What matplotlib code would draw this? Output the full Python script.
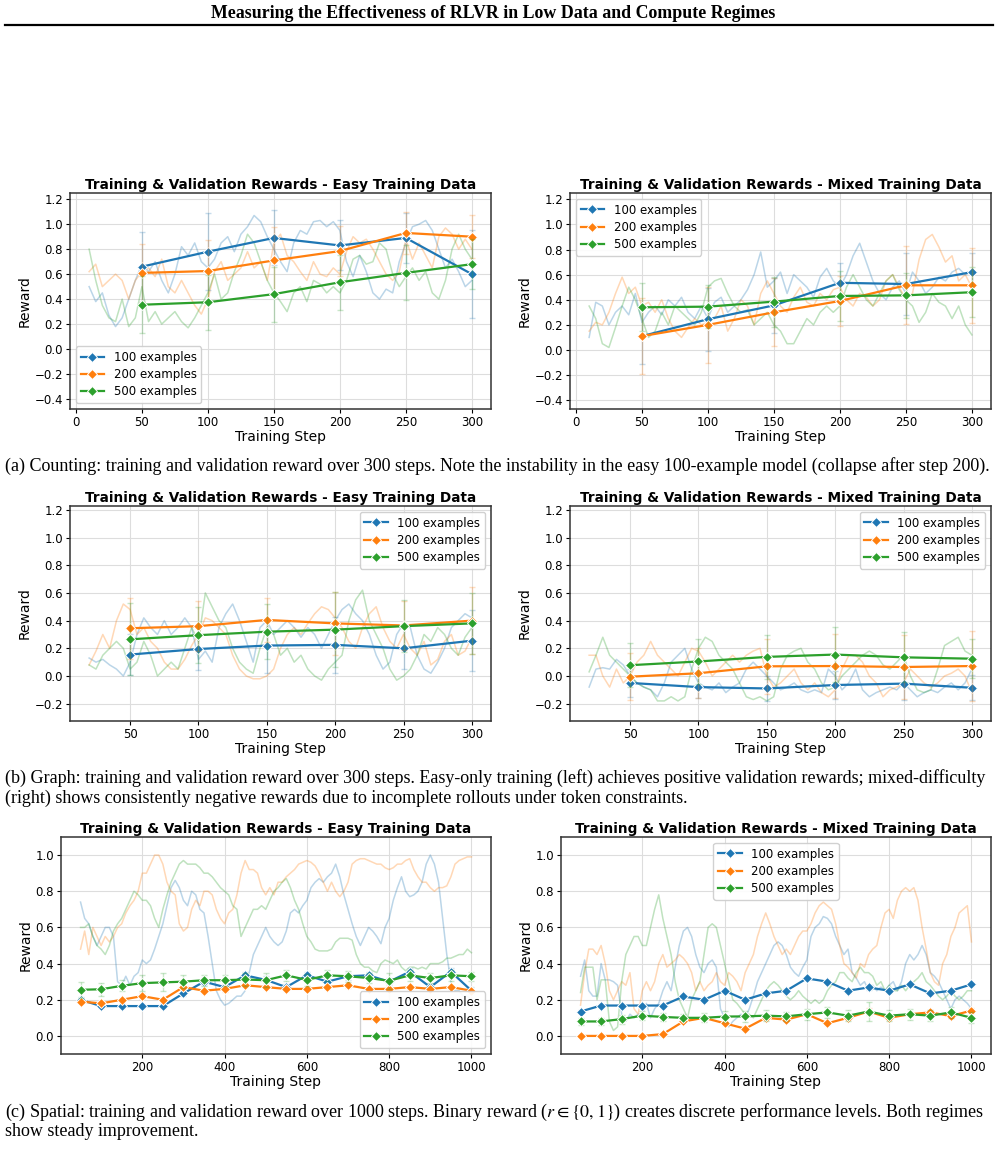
import numpy as np
import matplotlib.pyplot as plt

W, H = 998, 1173

COLORS = ["#1f77b4", "#ff7f0e", "#2ca02c"]
LABELS = ["100 examples", "200 examples", "500 examples"]
TITLE_EASY = "Training & Validation Rewards - Easy Training Data"
TITLE_MIXED = "Training & Validation Rewards - Mixed Training Data"

VAL_STEPS_300 = [50, 100, 150, 200, 250, 300]
VAL_STEPS_1000 = [50, 100, 150, 200, 250, 300, 350, 400, 450, 500,
                  550, 600, 650, 700, 750, 800, 850, 900, 950, 1000]

# ---- (a) Counting, easy ----
A_EASY_TRAIN_START, A_EASY_TRAIN_EVERY = 10, 5
A_EASY_TRAIN_100 = [0.50, 0.38, 0.45, 0.27, 0.18, 0.25, 0.40, 0.55, 0.68, 0.62,
                    0.70, 0.55, 0.45, 0.60, 0.82, 0.75, 0.85, 0.70, 0.65, 0.72,
                    0.85, 0.90, 0.78, 0.92, 0.98, 1.07, 1.02, 0.90, 0.80, 0.70,
                    0.62, 0.85, 0.95, 0.92, 1.02, 1.03, 0.98, 1.02, 0.95, 0.70,
                    0.58, 0.75, 0.62, 0.45, 0.40, 0.48, 0.45, 0.70, 0.85, 0.98,
                    1.00, 1.03, 0.95, 0.80, 0.65, 0.72, 0.62, 0.50, 0.55]
A_EASY_TRAIN_200 = [0.62, 0.68, 0.50, 0.55, 0.60, 0.55, 0.40, 0.55, 0.62, 0.65,
                    0.58, 0.72, 0.50, 0.45, 0.55, 0.45, 0.35, 0.28, 0.40, 0.62,
                    0.70, 0.55, 0.60, 0.65, 0.78, 0.65, 0.70, 0.55, 0.85, 0.92,
                    0.75, 0.70, 0.62, 0.55, 0.70, 0.60, 0.58, 0.65, 0.60, 0.78,
                    0.90, 0.85, 0.88, 0.80, 0.70, 0.60, 0.55, 0.62, 0.88, 0.72,
                    0.85, 0.75, 0.65, 0.90, 0.97, 0.92, 0.80, 0.88, 0.80]
A_EASY_TRAIN_500 = [0.80, 0.55, 0.35, 0.25, 0.22, 0.40, 0.18, 0.25, 0.50, 0.22,
                    0.30, 0.20, 0.25, 0.30, 0.22, 0.17, 0.25, 0.35, 0.45, 0.60,
                    0.40, 0.45, 0.62, 0.75, 0.92, 0.85, 0.70, 0.55, 0.45, 0.38,
                    0.30, 0.45, 0.50, 0.38, 0.55, 0.52, 0.45, 0.50, 0.45, 0.55,
                    0.72, 0.75, 0.68, 0.70, 0.85, 0.80, 0.60, 0.50, 0.58, 0.65,
                    0.55, 0.62, 0.45, 0.40, 0.55, 0.80, 0.92, 0.80, 0.72]
A_EASY_VAL_100 = [0.66, 0.78, 0.89, 0.83, 0.89, 0.60]
A_EASY_VAL_200 = [0.61, 0.625, 0.71, 0.785, 0.93, 0.90]
A_EASY_VAL_500 = [0.355, 0.375, 0.44, 0.535, 0.61, 0.68]
A_EASY_ERR_100 = [0.28, 0.31, 0.22, 0.20, 0.20, 0.35]
A_EASY_ERR_200 = [0.23, 0.25, 0.27, 0.20, 0.17, 0.17]
A_EASY_ERR_500 = [0.23, 0.22, 0.22, 0.22, 0.22, 0.20]

# ---- (a) Counting, mixed ----
A_MIX_TRAIN_START, A_MIX_TRAIN_EVERY = 10, 5
A_MIX_TRAIN_100 = [0.10, 0.38, 0.35, 0.20, 0.30, 0.35, 0.28, 0.45, 0.22, 0.30,
                   0.35, 0.28, 0.40, 0.35, 0.42, 0.30, 0.25, 0.35, 0.25, 0.38,
                   0.42, 0.30, 0.35, 0.40, 0.48, 0.60, 0.78, 0.50, 0.55, 0.62,
                   0.45, 0.60, 0.55, 0.50, 0.42, 0.58, 0.65, 0.55, 0.50, 0.60,
                   0.75, 0.85, 0.70, 0.55, 0.45, 0.40, 0.50, 0.55, 0.45, 0.62,
                   0.55, 0.45, 0.50, 0.58, 0.55, 0.62, 0.65, 0.60, 0.62]
A_MIX_TRAIN_200 = [0.15, 0.22, 0.20, 0.30, 0.45, 0.58, 0.45, 0.50, 0.35, 0.38,
                   0.30, 0.40, 0.25, 0.15, 0.10, 0.18, 0.25, 0.20, 0.22, 0.25,
                   0.35, 0.15, 0.25, 0.40, 0.35, 0.20, 0.45, 0.55, 0.45, 0.35,
                   0.30, 0.42, 0.50, 0.38, 0.35, 0.45, 0.40, 0.48, 0.50, 0.40,
                   0.35, 0.45, 0.42, 0.35, 0.40, 0.55, 0.60, 0.50, 0.40, 0.45,
                   0.72, 0.88, 0.92, 0.82, 0.70, 0.75, 0.55, 0.60, 0.50]
A_MIX_TRAIN_500 = [0.35, 0.25, 0.05, 0.02, 0.18, 0.35, 0.50, 0.40, 0.25, 0.10,
                   0.15, 0.30, 0.20, 0.35, 0.30, 0.25, 0.20, 0.30, 0.50, 0.55,
                   0.57, 0.45, 0.35, 0.30, 0.32, 0.20, 0.25, 0.30, 0.20, 0.15,
                   0.05, 0.05, 0.15, 0.25, 0.20, 0.30, 0.35, 0.30, 0.35, 0.50,
                   0.60, 0.50, 0.40, 0.35, 0.45, 0.55, 0.60, 0.48, 0.40, 0.35,
                   0.22, 0.30, 0.45, 0.38, 0.35, 0.25, 0.35, 0.20, 0.12]
A_MIX_VAL_100 = [0.11, 0.245, 0.355, 0.535, 0.525, 0.62]
A_MIX_VAL_200 = [0.11, 0.20, 0.30, 0.39, 0.515, 0.515]
A_MIX_VAL_500 = [0.34, 0.345, 0.385, 0.43, 0.435, 0.46]
A_MIX_ERR_100 = [0.22, 0.25, 0.22, 0.16, 0.25, 0.15]
A_MIX_ERR_200 = [0.30, 0.30, 0.27, 0.20, 0.31, 0.30]
A_MIX_ERR_500 = [0.19, 0.17, 0.20, 0.20, 0.18, 0.20]

# ---- (b) Graph, easy ----
B_EASY_TRAIN_START, B_EASY_TRAIN_EVERY = 20, 5
B_EASY_TRAIN_100 = [0.13, 0.10, 0.12, 0.08, 0.05, 0.00, 0.10, 0.30, 0.42, 0.35,
                    0.30, 0.40, 0.30, 0.35, 0.42, 0.35, 0.12, 0.18, 0.10, 0.35,
                    0.45, 0.52, 0.40, 0.25, 0.10, 0.35, 0.40, 0.30, 0.35, 0.40,
                    0.35, 0.28, 0.35, 0.30, 0.20, 0.30, 0.40, 0.48, 0.52, 0.45,
                    0.40, 0.30, 0.15, 0.05, 0.10, 0.30, 0.38, 0.35, 0.15, 0.05,
                    0.02, 0.10, 0.20, 0.35, 0.40, 0.45, 0.42]
B_EASY_TRAIN_200 = [0.08, 0.18, 0.30, 0.20, 0.40, 0.52, 0.48, 0.30, 0.35, 0.25,
                    0.20, 0.10, 0.05, 0.05, 0.12, 0.22, 0.30, 0.42, 0.40, 0.35,
                    0.30, 0.15, 0.05, 0.00, -0.02, -0.02, 0.00, 0.05, 0.20, 0.30,
                    0.35, 0.30, 0.38, 0.45, 0.50, 0.48, 0.42, 0.35, 0.25, 0.20,
                    0.35, 0.45, 0.50, 0.35, 0.25, 0.20, 0.30, 0.20, 0.15, 0.25,
                    0.08, 0.12, 0.25, 0.30, 0.15, 0.18, 0.28]
B_EASY_TRAIN_500 = [0.08, 0.05, 0.15, 0.20, 0.25, 0.20, 0.05, 0.10, 0.25, 0.15,
                    0.00, 0.05, 0.10, 0.05, 0.20, 0.35, 0.25, 0.60, 0.50, 0.40,
                    0.35, 0.20, 0.10, 0.05, 0.02, 0.20, 0.35, 0.30, 0.15, 0.20,
                    0.10, 0.15, 0.05, 0.00, -0.03, 0.05, 0.10, 0.15, 0.40, 0.55,
                    0.62, 0.40, 0.30, 0.20, 0.05, -0.03, 0.00, 0.05, 0.15, 0.30,
                    0.25, 0.35, 0.30, 0.20, 0.15, 0.28, 0.35]
B_EASY_VAL_100 = [0.155, 0.195, 0.22, 0.225, 0.20, 0.255]
B_EASY_VAL_200 = [0.345, 0.36, 0.405, 0.38, 0.365, 0.40]
B_EASY_VAL_500 = [0.265, 0.295, 0.32, 0.335, 0.36, 0.38]
B_EASY_ERR_100 = [0.15, 0.15, 0.20, 0.20, 0.15, 0.22]
B_EASY_ERR_200 = [0.22, 0.18, 0.16, 0.23, 0.18, 0.24]
B_EASY_ERR_500 = [0.26, 0.20, 0.20, 0.27, 0.19, 0.22]

# ---- (b) Graph, mixed ----
B_MIX_TRAIN_START, B_MIX_TRAIN_EVERY = 20, 5
B_MIX_TRAIN_100 = [-0.08, 0.05, 0.06, 0.05, 0.12, 0.08, 0.00, -0.05, -0.08, -0.10,
                   -0.15, -0.05, 0.10, 0.15, 0.20, 0.05, -0.05, -0.08, -0.10, -0.05,
                   -0.12, -0.08, -0.05, 0.05, 0.10, 0.05, 0.00, -0.05, -0.10, -0.08,
                   -0.05, -0.10, -0.12, -0.10, -0.12, 0.05, 0.00, -0.10, -0.05, 0.05,
                   -0.10, -0.15, -0.12, -0.10, -0.08, -0.10, -0.05, -0.10, -0.15, -0.12,
                   -0.10, -0.12, -0.08, -0.05, -0.10, -0.05, 0.05]
B_MIX_TRAIN_200 = [0.15, 0.15, 0.00, -0.08, 0.05, -0.05, 0.00, 0.10, 0.15, 0.25,
                   0.15, 0.10, 0.05, 0.00, 0.10, 0.20, 0.18, 0.10, 0.00, 0.05,
                   0.10, 0.15, 0.10, 0.15, 0.18, 0.20, 0.00, -0.08, -0.05, 0.00,
                   0.05, -0.05, -0.10, -0.05, -0.12, -0.15, -0.10, 0.05, 0.15, 0.15,
                   0.10, 0.00, -0.05, -0.15, -0.10, -0.08, -0.05, 0.05, 0.00, -0.05,
                   -0.08, -0.05, 0.00, 0.02, 0.05, 0.00, -0.12]
B_MIX_TRAIN_500 = [0.03, 0.15, 0.28, 0.15, 0.10, 0.05, 0.00, -0.05, -0.08, -0.10,
                   -0.18, -0.18, -0.15, -0.18, -0.15, 0.05, 0.20, 0.28, 0.25, 0.15,
                   0.10, 0.05, -0.05, -0.15, -0.17, -0.15, -0.18, -0.15, 0.05, 0.15,
                   0.18, 0.20, 0.10, 0.05, -0.05, -0.10, -0.08, 0.00, 0.05, 0.10,
                   0.15, 0.18, 0.15, 0.08, 0.05, 0.10, 0.15, 0.00, -0.10, -0.12,
                   -0.10, 0.05, 0.22, 0.25, 0.28, 0.18, 0.15]
B_MIX_VAL_100 = [-0.05, -0.08, -0.09, -0.065, -0.055, -0.085]
B_MIX_VAL_200 = [-0.005, 0.02, 0.07, 0.072, 0.065, 0.072]
B_MIX_VAL_500 = [0.078, 0.105, 0.138, 0.155, 0.135, 0.125]
B_MIX_ERR_100 = [0.10, 0.08, 0.09, 0.10, 0.12, 0.09]
B_MIX_ERR_200 = [0.17, 0.18, 0.20, 0.23, 0.23, 0.25]
B_MIX_ERR_500 = [0.16, 0.16, 0.16, 0.20, 0.18, 0.14]

# ---- (c) Spatial, easy ----
C_EASY_TRAIN_START, C_EASY_TRAIN_EVERY = 50, 10
C_EASY_TRAIN_100 = [0.74, 0.65, 0.62, 0.55, 0.50, 0.55, 0.60, 0.60, 0.55, 0.30,
                    0.28, 0.33, 0.28, 0.33, 0.35, 0.42, 0.40, 0.42, 0.48, 0.55,
                    0.62, 0.72, 0.82, 0.86, 0.82, 0.75, 0.72, 0.80, 0.78, 0.70,
                    0.68, 0.55, 0.40, 0.25, 0.20, 0.17, 0.18, 0.20, 0.22, 0.22,
                    0.25, 0.35, 0.45, 0.50, 0.55, 0.60, 0.55, 0.52, 0.50, 0.52,
                    0.58, 0.68, 0.70, 0.68, 0.72, 0.75, 0.82, 0.85, 0.87, 0.85,
                    0.88, 0.90, 0.95, 0.88, 0.78, 0.70, 0.62, 0.55, 0.50, 0.55,
                    0.60, 0.58, 0.55, 0.51, 0.60, 0.65, 0.75, 0.82, 0.88, 0.80,
                    0.77, 0.78, 0.80, 0.85, 0.95, 1.00, 0.95, 0.85, 0.65, 0.45,
                    0.30, 0.25, 0.25, 0.22, 0.22, 0.20]
C_EASY_TRAIN_200 = [0.48, 0.58, 0.45, 0.60, 0.55, 0.50, 0.55, 0.52, 0.55, 0.60,
                    0.62, 0.68, 0.72, 0.75, 0.80, 0.90, 0.90, 0.95, 1.00, 1.00,
                    0.95, 0.85, 0.80, 0.78, 0.62, 0.58, 0.60, 0.70, 0.75, 0.72,
                    0.80, 0.80, 0.78, 0.70, 0.65, 0.62, 0.68, 0.70, 0.78, 0.90,
                    0.97, 0.92, 0.92, 0.90, 0.82, 0.78, 0.82, 0.78, 0.85, 0.85,
                    0.88, 0.90, 0.92, 0.95, 0.96, 0.97, 0.96, 0.94, 0.90, 0.85,
                    0.80, 0.85, 0.80, 0.77, 0.80, 0.85, 0.95, 0.97, 0.98, 0.98,
                    0.97, 0.96, 0.95, 0.95, 0.93, 0.92, 0.93, 0.95, 0.95, 0.97,
                    0.98, 0.92, 0.88, 0.85, 0.85, 0.82, 0.80, 0.82, 0.82, 0.83,
                    0.88, 0.95, 0.97, 0.98, 0.99, 0.99]
C_EASY_TRAIN_500 = [0.60, 0.60, 0.62, 0.55, 0.50, 0.48, 0.45, 0.50, 0.58, 0.62,
                    0.65, 0.70, 0.75, 0.80, 0.78, 0.75, 0.75, 0.72, 0.65, 0.60,
                    0.70, 0.78, 0.85, 0.90, 0.95, 0.97, 0.95, 0.95, 0.95, 0.93,
                    0.90, 0.90, 0.88, 0.85, 0.82, 0.80, 0.78, 0.72, 0.70, 0.55,
                    0.60, 0.65, 0.70, 0.70, 0.72, 0.70, 0.75, 0.80, 0.82, 0.85,
                    0.87, 0.82, 0.75, 0.70, 0.62, 0.55, 0.52, 0.48, 0.47, 0.47,
                    0.47, 0.48, 0.52, 0.54, 0.54, 0.54, 0.53, 0.45, 0.40, 0.38,
                    0.38, 0.36, 0.35, 0.40, 0.42, 0.41, 0.40, 0.42, 0.38, 0.36,
                    0.38, 0.38, 0.37, 0.38, 0.37, 0.40, 0.40, 0.40, 0.41, 0.43,
                    0.43, 0.44, 0.45, 0.45, 0.48, 0.46]
C_EASY_VAL_100 = [0.20, 0.165, 0.165, 0.165, 0.165, 0.235, 0.30, 0.27, 0.335, 0.31,
                  0.27, 0.335, 0.30, 0.33, 0.335, 0.30, 0.355, 0.27, 0.355, 0.25]
C_EASY_VAL_200 = [0.19, 0.18, 0.20, 0.22, 0.20, 0.27, 0.25, 0.26, 0.28, 0.27,
                  0.26, 0.26, 0.27, 0.28, 0.26, 0.26, 0.27, 0.26, 0.27, 0.25]
C_EASY_VAL_500 = [0.255, 0.258, 0.277, 0.292, 0.296, 0.30, 0.308, 0.308, 0.312, 0.308,
                  0.335, 0.31, 0.335, 0.33, 0.32, 0.305, 0.335, 0.32, 0.335, 0.33]
C_EASY_ERR_100 = [0.015, 0.01, 0.01, 0.01, 0.01, 0.015, 0.02, 0.015, 0.02, 0.02,
                  0.015, 0.02, 0.02, 0.02, 0.02, 0.02, 0.02, 0.015, 0.02, 0.02]
C_EASY_ERR_200 = [0.01, 0.01, 0.01, 0.015, 0.01, 0.01, 0.01, 0.015, 0.01, 0.01,
                  0.01, 0.01, 0.01, 0.015, 0.01, 0.01, 0.01, 0.01, 0.01, 0.01]
C_EASY_ERR_500 = [0.045, 0.035, 0.03, 0.045, 0.05, 0.035, 0.03, 0.03, 0.035, 0.04,
                  0.03, 0.035, 0.03, 0.03, 0.03, 0.045, 0.03, 0.03, 0.03, 0.025]

# ---- (c) Spatial, mixed ----
C_MIX_TRAIN_START, C_MIX_TRAIN_EVERY = 50, 10
C_MIX_TRAIN_100 = [0.33, 0.42, 0.25, 0.22, 0.22, 0.40, 0.31, 0.31, 0.30, 0.28,
                   0.12, 0.08, 0.12, 0.10, 0.12, 0.12, 0.18, 0.10, 0.15, 0.18,
                   0.25, 0.30, 0.25, 0.38, 0.50, 0.58, 0.60, 0.55, 0.45, 0.38,
                   0.35, 0.40, 0.42, 0.38, 0.15, 0.10, 0.05, 0.08, 0.10, 0.12,
                   0.10, 0.15, 0.22, 0.30, 0.35, 0.40, 0.45, 0.50, 0.52, 0.50,
                   0.45, 0.38, 0.35, 0.33, 0.38, 0.42, 0.55, 0.60, 0.62, 0.66,
                   0.65, 0.62, 0.55, 0.50, 0.45, 0.48, 0.35, 0.32, 0.28, 0.30,
                   0.25, 0.28, 0.25, 0.27, 0.25, 0.28, 0.30, 0.25, 0.30, 0.40,
                   0.45, 0.42, 0.45, 0.50, 0.45, 0.35, 0.33, 0.30, 0.25, 0.20,
                   0.15, 0.20, 0.22, 0.20, 0.18, 0.15]
C_MIX_TRAIN_200 = [0.17, 0.35, 0.48, 0.48, 0.45, 0.50, 0.40, 0.25, 0.20, 0.25,
                   0.30, 0.28, 0.35, 0.15, 0.12, 0.25, 0.30, 0.25, 0.30, 0.40,
                   0.45, 0.38, 0.40, 0.42, 0.45, 0.43, 0.40, 0.35, 0.25, 0.30,
                   0.25, 0.28, 0.30, 0.35, 0.30, 0.28, 0.35, 0.33, 0.30, 0.25,
                   0.35, 0.40, 0.45, 0.55, 0.62, 0.68, 0.62, 0.55, 0.50, 0.45,
                   0.48, 0.45, 0.50, 0.55, 0.58, 0.58, 0.62, 0.68, 0.72, 0.74,
                   0.72, 0.70, 0.62, 0.50, 0.40, 0.38, 0.35, 0.32, 0.40, 0.38,
                   0.45, 0.48, 0.50, 0.60, 0.68, 0.70, 0.65, 0.75, 0.80, 0.82,
                   0.80, 0.82, 0.75, 0.60, 0.48, 0.35, 0.30, 0.28, 0.40, 0.45,
                   0.55, 0.60, 0.68, 0.70, 0.72, 0.52]
C_MIX_TRAIN_500 = [0.24, 0.38, 0.38, 0.38, 0.20, 0.31, 0.31, 0.08, 0.03, 0.05,
                   0.30, 0.45, 0.50, 0.55, 0.55, 0.50, 0.50, 0.60, 0.70, 0.78,
                   0.65, 0.55, 0.45, 0.30, 0.20, 0.15, 0.10, 0.20, 0.25, 0.30,
                   0.45, 0.60, 0.62, 0.60, 0.50, 0.40, 0.30, 0.20, 0.18, 0.15,
                   0.12, 0.12, 0.10, 0.15, 0.20, 0.25, 0.28, 0.30, 0.28, 0.25,
                   0.22, 0.20, 0.22, 0.25, 0.22, 0.20, 0.18, 0.20, 0.18, 0.20,
                   0.25, 0.28, 0.30, 0.35, 0.35, 0.32, 0.30, 0.35, 0.38, 0.35,
                   0.35, 0.33, 0.28, 0.30, 0.25, 0.28, 0.25, 0.25, 0.28, 0.25,
                   0.28, 0.30, 0.32, 0.35, 0.30, 0.28, 0.25, 0.22, 0.20, 0.22,
                   0.25, 0.22, 0.20, 0.22, 0.25, 0.25]
C_MIX_VAL_100 = [0.135, 0.168, 0.168, 0.168, 0.168, 0.218, 0.20, 0.25, 0.20, 0.235,
                 0.25, 0.318, 0.30, 0.25, 0.268, 0.25, 0.285, 0.235, 0.25, 0.285]
C_MIX_VAL_200 = [0.0, 0.0, 0.0, 0.0, 0.01, 0.08, 0.10, 0.07, 0.04, 0.10,
                 0.09, 0.12, 0.07, 0.10, 0.135, 0.10, 0.12, 0.13, 0.11, 0.14]
C_MIX_VAL_500 = [0.08, 0.08, 0.093, 0.112, 0.105, 0.10, 0.10, 0.107, 0.108, 0.112,
                 0.108, 0.12, 0.13, 0.112, 0.135, 0.112, 0.12, 0.112, 0.13, 0.10]
C_MIX_ERR_100 = [0.01, 0.01, 0.01, 0.01, 0.01, 0.01, 0.01, 0.01, 0.01, 0.01,
                 0.01, 0.01, 0.01, 0.01, 0.015, 0.01, 0.01, 0.01, 0.01, 0.01]
C_MIX_ERR_200 = [0.005, 0.005, 0.005, 0.005, 0.01, 0.01, 0.01, 0.01, 0.01, 0.01,
                 0.01, 0.01, 0.01, 0.01, 0.02, 0.01, 0.01, 0.015, 0.01, 0.015]
C_MIX_ERR_500 = [0.02, 0.02, 0.025, 0.025, 0.02, 0.02, 0.025, 0.03, 0.03, 0.03,
                 0.025, 0.03, 0.03, 0.03, 0.05, 0.03, 0.03, 0.03, 0.03, 0.03]

HEADER = "Measuring the Effectiveness of RLVR in Low Data and Compute Regimes"
CAPTION_A = ["(a) Counting: training and validation reward over 300 steps. Note the instability in the easy "
             "100-example model (collapse after step 200)."]
CAPTION_B = ["(b) Graph: training and validation reward over 300 steps. Easy-only training (left) achieves "
             "positive validation rewards; mixed-difficulty",
             "(right) shows consistently negative rewards due to incomplete rollouts under token constraints."]
CAPTION_C = ["(c) Spatial: training and validation reward over 1000 steps. Binary reward ($r \\in \\{0,1\\}$) "
             "creates discrete performance levels. Both regimes",
             "show steady improvement."]


def px_rect(left, top, right, bottom):
    return [left / W, 1 - bottom / H, (right - left) / W, (bottom - top) / H]


def draw_panel(ax, start, every, train, steps, val, err, title, ylim, yticks, legend_loc):
    for color, ys in zip(COLORS, train):
        xs = start + every * np.arange(len(ys))
        ax.plot(xs, ys, color=color, alpha=0.3, linewidth=1.1)
    for color, label, ys, es in zip(COLORS, LABELS, val, err):
        ax.errorbar(steps, ys, yerr=es, fmt="none", ecolor=color, alpha=0.25,
                    capsize=2, elinewidth=1.0)
        ax.plot(steps, ys, color=color, marker="D", markersize=5,
                markeredgecolor="white", markeredgewidth=0.7, linewidth=1.6, label=label)

    ax.set_ylim(*ylim)
    ax.set_yticks(yticks)
    ax.set_title(title, fontsize=9.8, weight="bold", pad=3)
    ax.set_xlabel("Training Step", fontsize=10, labelpad=1)
    ax.set_ylabel("Reward", fontsize=10, labelpad=2)
    ax.tick_params(labelsize=8.5, length=3, pad=2)
    ax.grid(True, color="#dddddd", linewidth=0.8)
    for sp in ax.spines.values():
        sp.set_color("#333333")
        sp.set_linewidth(1.1)
    ax.legend(loc=legend_loc, fontsize=8.5, framealpha=0.9, edgecolor="#cccccc",
              handlelength=2.0, borderpad=0.4, labelspacing=0.35)


def add_caption(fig, lines, y0, spacing=20):
    for i, line in enumerate(lines):
        fig.text(5 / W, 1 - (y0 + i * spacing) / H, line, ha="left", va="center",
                 fontsize=13, family="Liberation Serif")


def main():
    plt.rcParams.update({"font.family": "DejaVu Sans", "mathtext.fontset": "stix"})
    fig = plt.figure(figsize=(W / 100, H / 100), dpi=100)
    fig.patch.set_facecolor("white")

    fig.text(493 / W, 1 - 13 / H, HEADER, ha="center", va="center", fontsize=12.9,
             weight="bold", family="Liberation Serif")
    fig.add_artist(plt.Line2D([5 / W, 993 / W], [1 - 25 / H, 1 - 25 / H],
                              color="black", linewidth=1.6))

    ticks_a = [-0.4, -0.2, 0.0, 0.2, 0.4, 0.6, 0.8, 1.0, 1.2]
    ticks_b = [-0.2, 0.0, 0.2, 0.4, 0.6, 0.8, 1.0, 1.2]
    ticks_c = [0.0, 0.2, 0.4, 0.6, 0.8, 1.0]

    ax = fig.add_axes(px_rect(70, 193, 491, 409))
    draw_panel(ax, A_EASY_TRAIN_START, A_EASY_TRAIN_EVERY,
               [A_EASY_TRAIN_100, A_EASY_TRAIN_200, A_EASY_TRAIN_500], VAL_STEPS_300,
               [A_EASY_VAL_100, A_EASY_VAL_200, A_EASY_VAL_500],
               [A_EASY_ERR_100, A_EASY_ERR_200, A_EASY_ERR_500],
               TITLE_EASY, (-0.48, 1.25), ticks_a, "lower left")

    ax = fig.add_axes(px_rect(570, 193, 991, 409))
    draw_panel(ax, A_MIX_TRAIN_START, A_MIX_TRAIN_EVERY,
               [A_MIX_TRAIN_100, A_MIX_TRAIN_200, A_MIX_TRAIN_500], VAL_STEPS_300,
               [A_MIX_VAL_100, A_MIX_VAL_200, A_MIX_VAL_500],
               [A_MIX_ERR_100, A_MIX_ERR_200, A_MIX_ERR_500],
               TITLE_MIXED, (-0.47, 1.25), ticks_a, "upper left")

    ax = fig.add_axes(px_rect(70, 506, 491, 721))
    draw_panel(ax, B_EASY_TRAIN_START, B_EASY_TRAIN_EVERY,
               [B_EASY_TRAIN_100, B_EASY_TRAIN_200, B_EASY_TRAIN_500], VAL_STEPS_300,
               [B_EASY_VAL_100, B_EASY_VAL_200, B_EASY_VAL_500],
               [B_EASY_ERR_100, B_EASY_ERR_200, B_EASY_ERR_500],
               TITLE_EASY, (-0.325, 1.228), ticks_b, "upper right")

    ax = fig.add_axes(px_rect(570, 506, 991, 721))
    draw_panel(ax, B_MIX_TRAIN_START, B_MIX_TRAIN_EVERY,
               [B_MIX_TRAIN_100, B_MIX_TRAIN_200, B_MIX_TRAIN_500], VAL_STEPS_300,
               [B_MIX_VAL_100, B_MIX_VAL_200, B_MIX_VAL_500],
               [B_MIX_ERR_100, B_MIX_ERR_200, B_MIX_ERR_500],
               TITLE_MIXED, (-0.325, 1.228), ticks_b, "upper right")

    ax = fig.add_axes(px_rect(61, 837, 491, 1054))
    draw_panel(ax, C_EASY_TRAIN_START, C_EASY_TRAIN_EVERY,
               [C_EASY_TRAIN_100, C_EASY_TRAIN_200, C_EASY_TRAIN_500], VAL_STEPS_1000,
               [C_EASY_VAL_100, C_EASY_VAL_200, C_EASY_VAL_500],
               [C_EASY_ERR_100, C_EASY_ERR_200, C_EASY_ERR_500],
               TITLE_EASY, (-0.1, 1.1), ticks_c, "lower right")

    ax = fig.add_axes(px_rect(561, 837, 991, 1054))
    draw_panel(ax, C_MIX_TRAIN_START, C_MIX_TRAIN_EVERY,
               [C_MIX_TRAIN_100, C_MIX_TRAIN_200, C_MIX_TRAIN_500], VAL_STEPS_1000,
               [C_MIX_VAL_100, C_MIX_VAL_200, C_MIX_VAL_500],
               [C_MIX_ERR_100, C_MIX_ERR_200, C_MIX_ERR_500],
               TITLE_MIXED, (-0.1, 1.1), ticks_c, "upper center")

    add_caption(fig, CAPTION_A, 466)
    add_caption(fig, CAPTION_B, 778)
    add_caption(fig, CAPTION_C, 1112)

    fig.savefig("out.png", dpi=100, facecolor="white")


if __name__ == "__main__":
    main()
